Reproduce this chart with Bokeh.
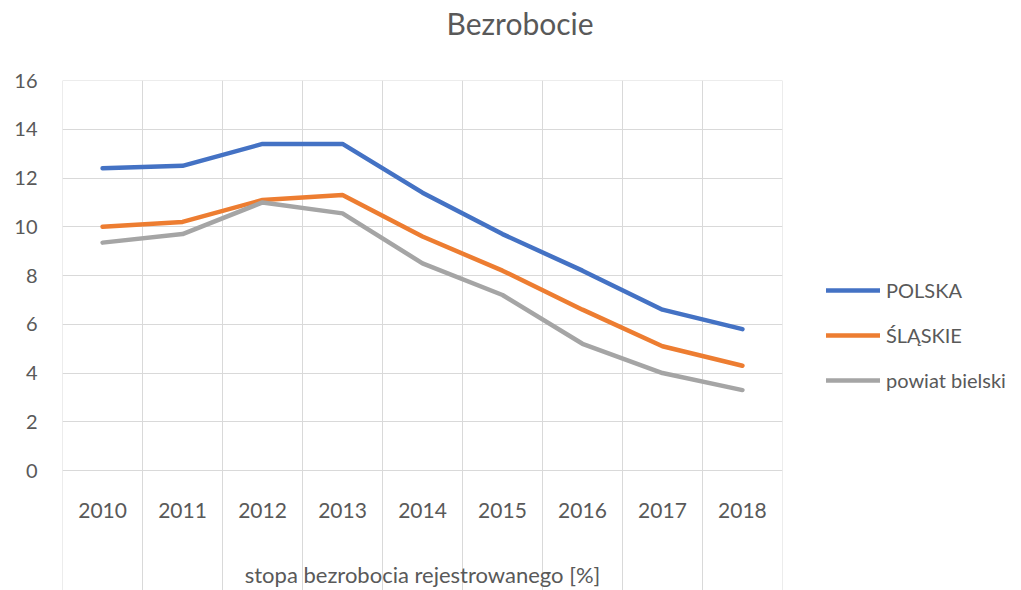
from bokeh.plotting import figure
from bokeh.models import (FactorRange, Range1d, FixedTicker, Legend, LegendItem,
                          ColumnDataSource, Title)
from bokeh.layouts import row
from bokeh.core.properties import value
from bokeh.embed import file_html
from bokeh.resources import INLINE

# ---- data ----
years = ["2010", "2011", "2012", "2013", "2014", "2015", "2016", "2017", "2018"]
polska = [12.4, 12.5, 13.4, 13.4, 11.4, 9.7, 8.2, 6.6, 5.8]
slaskie = [10.0, 10.2, 11.1, 11.3, 9.6, 8.2, 6.6, 5.1, 4.3]
powiat_bielski = [9.35, 9.7, 11.0, 10.55, 8.5, 7.2, 5.2, 4.0, 3.3]
series_names = ["POLSKA", "ŚLĄSKIE", "powiat bielski"]
y_ticks = [0, 2, 4, 6, 8, 10, 12, 14, 16]
title_text = "Bezrobocie"
axis_title = "stopa bezrobocia rejestrowanego [%]"

colors = ["#4472C4", "#ED7D31", "#A5A5A5"]
FONT = "Lato"
TXT = "#595959"
GRID = "#D9D9D9"
all_series = [polska, slaskie, powiat_bielski]

p = figure(width=783, height=590, output_backend="svg", toolbar_location=None,
           x_range=FactorRange(factors=years, range_padding=0.0002),
           y_range=Range1d(-4.923, 16.002),
           min_border_left=62, min_border_right=1, min_border_top=80,
           min_border_bottom=0)
p.outline_line_color = None
p.background_fill_color = "white"
p.border_fill_color = "white"
p.title.text = ""

# spacer (nearest the plot) and real title above it
spacer = Title(text=" ", text_font_size="1px", standoff=36)
p.add_layout(spacer, "above")
title = Title(text=title_text, text_font=FONT, text_font_size="30px",
              text_font_style="normal", text_color=TXT, align="left",
              offset=384, standoff=2, vertical_align="bottom")
p.add_layout(title, "above")

# axes
p.xaxis.visible = False
p.yaxis.ticker = FixedTicker(ticks=y_ticks)
p.yaxis.axis_line_color = None
p.yaxis.major_tick_line_color = None
p.yaxis.minor_tick_line_color = None
p.yaxis.major_tick_out = 0
p.yaxis.major_tick_in = 0
p.yaxis.major_label_standoff = 25
p.yaxis.major_label_text_font = FONT
p.yaxis.major_label_text_font_size = "20px"
p.yaxis.major_label_text_color = TXT

# grids: horizontal at value ticks, vertical at category boundaries
p.ygrid.ticker = FixedTicker(ticks=y_ticks)
p.ygrid.grid_line_color = GRID
p.ygrid.grid_line_width = 1
p.xgrid.ticker = FixedTicker(ticks=list(range(len(years) + 1)))
p.xgrid.grid_line_color = GRID
p.xgrid.grid_line_width = 1

# category labels inside the plot area (Excel style)
lab_src = ColumnDataSource(dict(x=years, y=[-1.64] * len(years), t=years))
p.text(x="x", y="y", text="t", source=lab_src, text_font=value(FONT),
       text_font_size="21px", text_color=TXT, text_align="center",
       text_baseline="middle")
p.text(x=[years[4]], y=[-4.27], text=[axis_title], text_font=value(FONT),
       text_font_size="22px", text_color=TXT, text_align="center",
       text_baseline="middle")

for vals, c in zip(all_series, colors):
    p.line(x=years, y=vals, line_color=c, line_width=4.5,
           line_cap="round", line_join="round")

# legend panel: a second, axis-free figure on the right (its lines lie
# outside its visible range, they only feed the legend swatches)
p2 = figure(width=238, height=590, output_backend="svg", toolbar_location=None,
            x_range=FactorRange(factors=years), y_range=Range1d(100, 101),
            min_border_left=0, min_border_right=0, min_border_top=0,
            min_border_bottom=0)
p2.axis.visible = False
p2.grid.visible = False
p2.outline_line_color = None
p2.title.text = ""
items = []
for name, vals, c in zip(series_names, all_series, colors):
    r = p2.line(x=years, y=vals, line_color=c, line_width=4.5, line_cap="round")
    items.append(LegendItem(label=name, renderers=[r]))
legend = Legend(items=items, location=(43, 198), padding=0, margin=0,
                border_line_color=None, background_fill_alpha=0,
                glyph_width=54, glyph_height=20, label_height=20, spacing=21,
                label_standoff=6, label_text_font=FONT,
                label_text_font_size="20px", label_text_color=TXT)
p2.add_layout(legend, "center")

layout = row(p, p2, spacing=0)
open("out.html", "w").write(file_html(layout, INLINE))
